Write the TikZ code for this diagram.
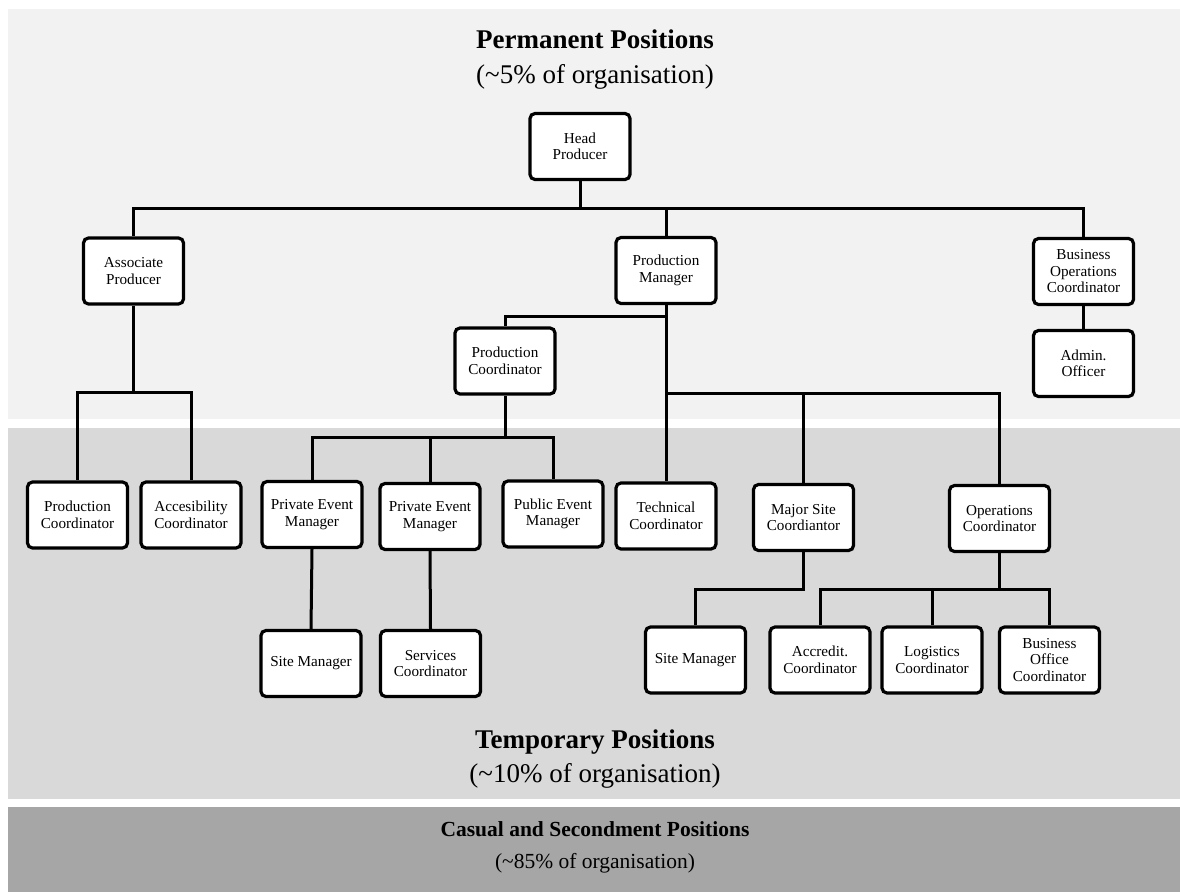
\documentclass[tikz,border=0pt]{standalone}
\usepackage{fontspec}
\setmainfont{Liberation Serif}
\begin{document}
\begin{tikzpicture}
  [
    x=1pt,y=-1pt,
    post/.style={rectangle,draw=black,line width=3.2pt,fill=white,rounded corners=5pt,
      minimum width=100pt,minimum height=66pt,inner sep=2pt,align=center,
      font=\fontsize{15.2}{16.5}\selectfont},
    link/.style={draw=black,line width=3pt},
    band/.style={draw=none},
    heading/.style={anchor=base,font=\fontsize{27}{30}\selectfont\bfseries},
    share/.style={anchor=base,font=\fontsize{27}{30}\selectfont},
  ]
  \useasboundingbox (0,0) rectangle (1180,892);
  % bands
  \fill [band,fill={rgb,255:red,242;green,242;blue,242}] (8,9) rectangle (1180,419);
  \fill [band,fill={rgb,255:red,217;green,217;blue,217}] (8,428) rectangle (1180,799);
  \fill [band,fill={rgb,255:red,166;green,166;blue,166}] (8,807) rectangle (1180,892);
  \node (permT) at (595,48) [heading] {Permanent Positions};
  \node (permS) at (595,83) [share] {(\textasciitilde5\% of organisation)};
  \node (tempT) at (595,748) [heading] {Temporary Positions};
  \node (tempS) at (595,782) [share] {(\textasciitilde10\% of organisation)};
  \node (casT) at (595,836) [heading,font=\fontsize{21.5}{24}\selectfont\bfseries] {Casual and Secondment Positions};
  \node (casS) at (595,868) [share,font=\fontsize{21.5}{24}\selectfont] {(\textasciitilde85\% of organisation)};
  % permanent posts
  \node (head) at (580,146.5) [post] {Head\\Producer};
  \node (assoc) at (133.5,271) [post] {Associate\\Producer};
  \node (prodman) at (666,270.5) [post] {Production\\Manager};
  \node (bizops) at (1083.5,271.5) [post] {Business\\Operations\\Coordinator};
  \node (admin) at (1083.5,363.5) [post] {Admin.\\Officer};
  \node (prodco) at (505,361) [post] {Production\\Coordinator};
  % temporary posts
  \node (prodcoB) at (77.5,515) [post] {Production\\Coordinator};
  \node (access) at (191,515) [post] {Accesibility\\Coordinator};
  \node (pemA) at (312,514.5) [post] {Private Event\\Manager};
  \node (pemB) at (430,516.5) [post] {Private Event\\Manager};
  \node (pubem) at (553,514) [post] {Public Event\\Manager};
  \node (tech) at (666,516) [post] {Technical\\Coordinator};
  \node (majsite) at (803.5,517.5) [post] {Major Site\\Coordiantor};
  \node (opsco) at (999.5,518.5) [post] {Operations\\Coordinator};
  \node (siteA) at (311,663.5) [post] {Site Manager};
  \node (services) at (430.5,663.5) [post] {Services\\Coordinator};
  \node (siteB) at (695.5,660) [post] {Site Manager};
  \node (accred) at (820,660) [post] {Accredit.\\Coordinator};
  \node (logis) at (932,660) [post] {Logistics\\Coordinator};
  \node (bizoff) at (1049.5,660) [post] {Business\\Office\\Coordinator};
  % junctions
  \coordinate (hbar) at (580,208);
  \coordinate (abar) at (133.5,392);
  \coordinate (pmbarA) at (666,316);
  \coordinate (pmbarB) at (666,393);
  \coordinate (pcbar) at (505,437);
  \coordinate (msbar) at (803.5,589);
  \coordinate (osbar) at (999.5,589);
  % connectors
  \draw [link] (head.south) -- (hbar) -| (assoc.north);
  \draw [link] (hbar) -| (bizops.north);
  \draw [link] (hbar) -| (prodman.north);
  \draw [link] (bizops.south) -- (admin.north);
  \draw [link] (assoc.south) -- (abar) -| (prodcoB.north);
  \draw [link] (abar) -| (access.north);
  \draw [link] (prodman.south) -- (tech.north);
  \draw [link] (pmbarA) -| (prodco.north);
  \draw [link] (pmbarB) -| (majsite.north);
  \draw [link] (pmbarB) -| (opsco.north);
  \draw [link] (prodco.south) -- (pcbar) -| (pemA.north);
  \draw [link] (pcbar) -| (pemB.north);
  \draw [link] (pcbar) -| (pubem.north);
  \draw [link] (pemA.south) -- (siteA.north);
  \draw [link] (pemB.south) -- (services.north);
  \draw [link] (majsite.south) -- (msbar) -| (siteB.north);
  \draw [link] (opsco.south) -- (osbar) -| (accred.north);
  \draw [link] (osbar) -| (logis.north);
  \draw [link] (osbar) -| (bizoff.north);
\end{tikzpicture}
\end{document}
